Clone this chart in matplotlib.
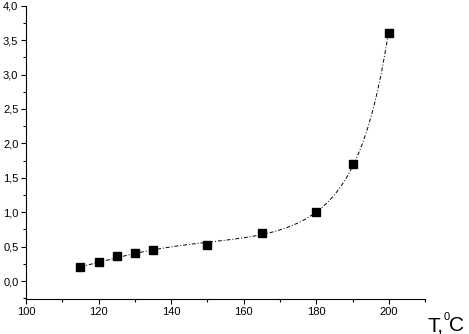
import numpy as np
import matplotlib
matplotlib.use("Agg")
import matplotlib.pyplot as plt
from matplotlib.ticker import MultipleLocator, FuncFormatter

T = [115, 120, 125, 130, 135, 150, 165, 180, 190, 200]
V = [0.20, 0.27, 0.36, 0.41, 0.45, 0.52, 0.70, 1.00, 1.70, 3.60]

plt.rcParams['font.family'] = ['Liberation Sans', 'DejaVu Sans']

W, H = 469, 334
fig = plt.figure(figsize=(W / 100, H / 100), dpi=100)
ax = fig.add_axes([0.0555, 0.105, 0.851, 0.878])

# smooth fit curve (cubic fit of log values)
coef = np.polyfit(T, np.log(V), 3)
xs = np.linspace(min(T), max(T), 300)
ax.plot(xs, np.exp(np.polyval(coef, xs)), color='black', lw=0.7,
        linestyle=(0, (4, 2, 1, 2)))
ax.plot(T, V, 's', color='black', markersize=5.5)

ax.set_xlim(100, 210)
ax.set_ylim(-0.26, 4.0)
ax.spines['top'].set_visible(False)
ax.spines['right'].set_visible(False)
ax.xaxis.set_minor_locator(MultipleLocator(10))
ax.yaxis.set_minor_locator(MultipleLocator(0.25))
ax.set_xticks([100, 120, 140, 160, 180, 200])
ax.set_yticks([0, 0.5, 1, 1.5, 2, 2.5, 3, 3.5, 4])
ax.yaxis.set_major_formatter(FuncFormatter(lambda v, p: f"{v:.1f}".replace('.', ',')))
ax.tick_params(which='both', direction='out', labelsize=8, width=0.8, pad=2)
ax.tick_params(which='major', length=3.5)
ax.tick_params(which='minor', length=2)

# axis label "T, 0C" with superscript zero
fig.text(427 / W, 1 - 331 / H, 'T,', fontsize=15, ha='left', va='baseline')
fig.text(444 / W, 1 - 320 / H, '0', fontsize=8, ha='left', va='baseline')
fig.text(449 / W, 1 - 331 / H, 'C', fontsize=15, ha='left', va='baseline')

fig.savefig('out.png', dpi=100)
